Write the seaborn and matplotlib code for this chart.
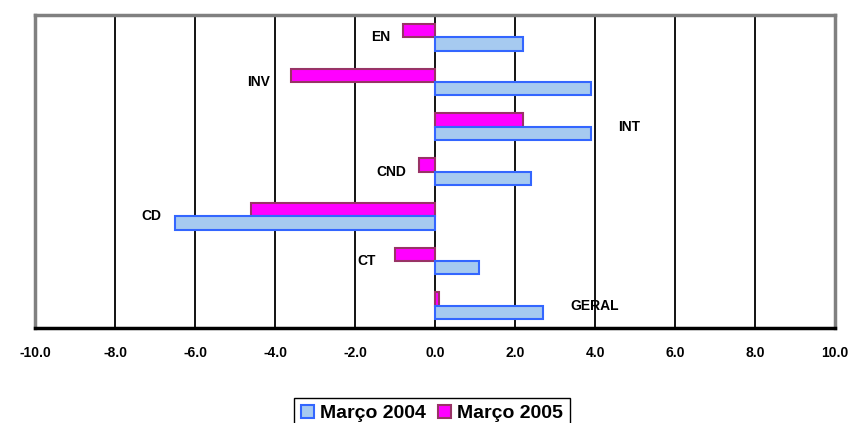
import pandas as pd
import matplotlib.pyplot as plt
import seaborn as sns
from matplotlib.patches import Patch

categories = ["EN", "INV", "INT", "CND", "CD", "CT", "GERAL"]
marco_2004 = [2.2, 3.9, 3.9, 2.4, -6.5, 1.1, 2.7]
marco_2005 = [-0.8, -3.6, 2.2, -0.4, -4.6, -1.0, 0.1]
series_names = ["Março 2004", "Março 2005"]
x_ticks = [-10, -8, -6, -4, -2, 0, 2, 4, 6, 8, 10]

# where the category names sit (x in data units), like the Excel data labels
label_x = [-1.35, -4.4, 4.85, -1.1, -7.1, -1.7, 4.0]

face = {"Março 2004": "#A6CAF0", "Março 2005": "#FF00FF"}
edge = {"Março 2004": "#3366FF", "Março 2005": "#993366"}

df = pd.DataFrame({
    "category": categories * 2,
    "value": marco_2004 + marco_2005,
    "series": [series_names[0]] * len(categories) + [series_names[1]] * len(categories),
})

sns.set_style("white")
plt.rcParams["font.family"] = ["Liberation Sans", "DejaVu Sans"]
plt.rcParams["text.color"] = "black"
plt.rcParams["xtick.color"] = "black"

fig = plt.figure(figsize=(8.48, 4.23), dpi=100)
ax = fig.add_axes([35 / 848, 1 - 328 / 423, 800 / 848, 313 / 423])

hue_order = ["Março 2005", "Março 2004"]
sns.barplot(
    data=df, x="value", y="category", hue="series",
    order=categories, hue_order=hue_order, palette=face, saturation=1,
    width=0.6, linewidth=1.5, legend=False, ax=ax,
)
for cont, name in zip(ax.containers, hue_order):
    for bar in cont:
        bar.set_edgecolor(edge[name])

ax.set_xlim(-10, 10)
ax.set_xticks(x_ticks)
ax.set_xticklabels([f"{t:.1f}" for t in x_ticks], fontsize=10, fontweight="bold")
ax.set_yticks([])
ax.set_xlabel("")
ax.set_ylabel("")
ax.grid(axis="x", color="black", linewidth=1.3)
ax.set_axisbelow(True)
ax.tick_params(axis="x", direction="out", length=6, width=2, color="black", pad=7)

for side in ["top", "right", "left"]:
    ax.spines[side].set_color("#808080")
    ax.spines[side].set_linewidth(2.5)
ax.spines["bottom"].set_color("black")
ax.spines["bottom"].set_linewidth(2.5)

for i, (cat, lx) in enumerate(zip(categories, label_x)):
    ax.text(lx, i, cat, ha="center", va="center", fontsize=10, fontweight="bold")

handles = [Patch(facecolor=face[n], edgecolor=edge[n], linewidth=1.5) for n in series_names]
fig.legend(
    handles, series_names, loc="upper center", bbox_to_anchor=(432 / 848, 1 - 388 / 423),
    ncol=2, frameon=True, fancybox=False, edgecolor="black", framealpha=1,
    prop={"weight": "bold", "size": 14}, handlelength=0.7, handleheight=0.7,
    handletextpad=0.3, columnspacing=0.6, borderpad=0.35,
)

fig.savefig("out.png", dpi=100)
